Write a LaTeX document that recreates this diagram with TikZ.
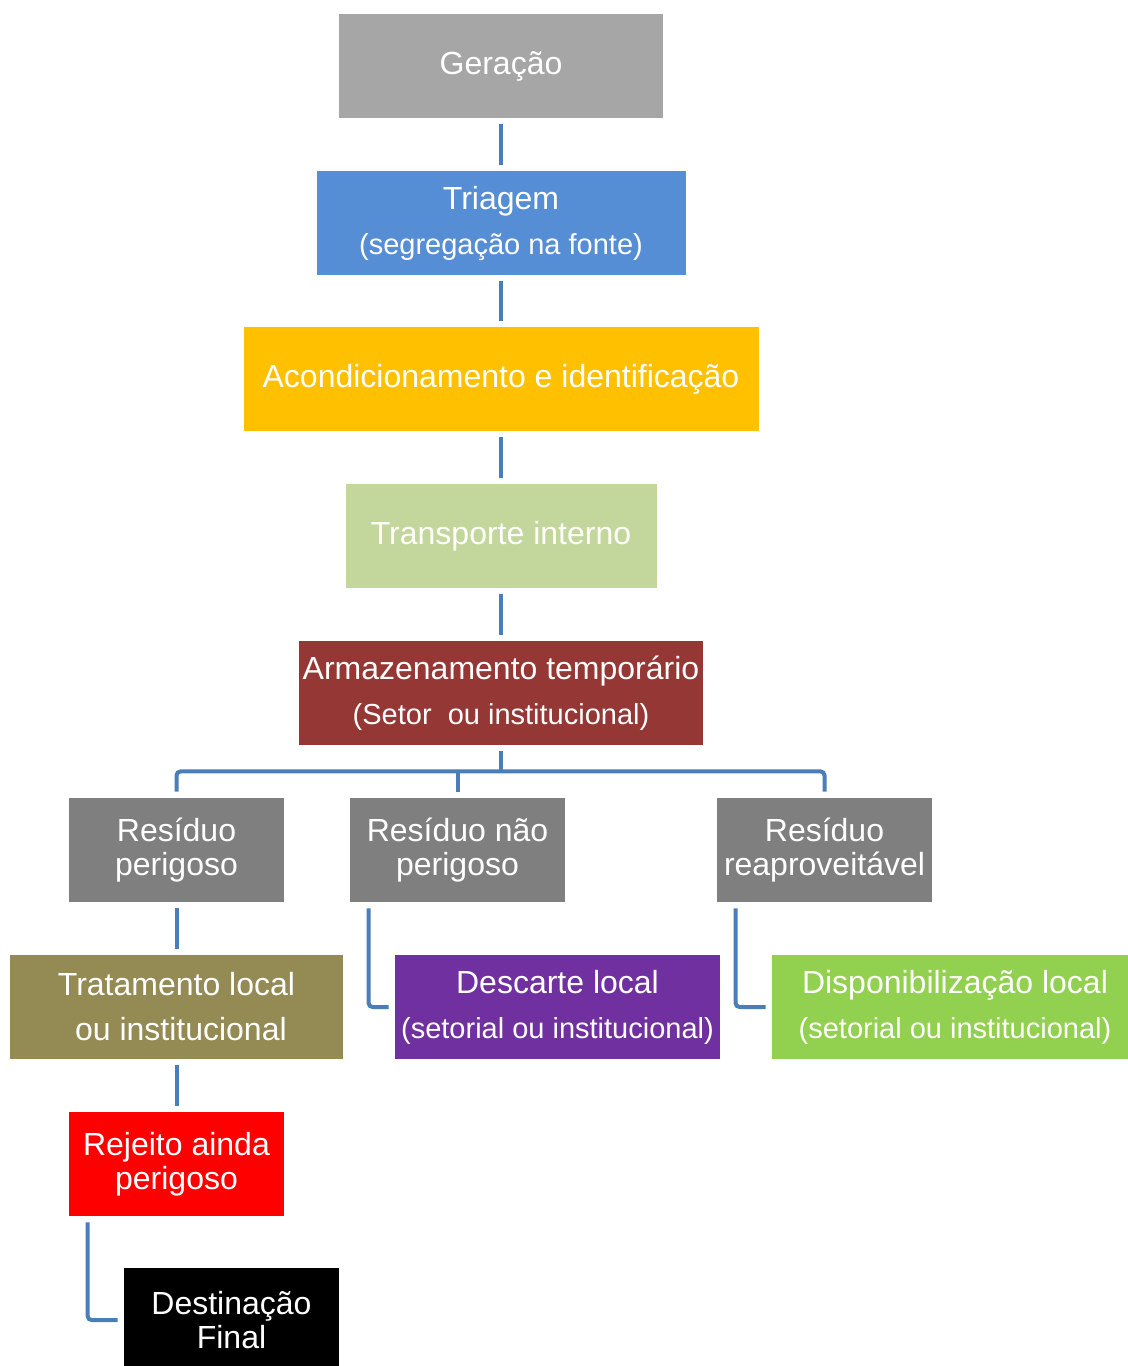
\documentclass[tikz,border=0pt]{standalone}
\usepackage{fontspec}
\setmainfont{Liberation Sans}
\usepackage{tikz}
\usetikzlibrary{positioning}

\definecolor{geracol}{HTML}{A6A6A6}
\definecolor{triacol}{HTML}{558ED5}
\definecolor{acondcol}{HTML}{FFC000}
\definecolor{transpcol}{HTML}{C3D69B}
\definecolor{armazcol}{HTML}{953735}
\definecolor{residcol}{HTML}{7F7F7F}
\definecolor{tratcol}{HTML}{948A54}
\definecolor{desccol}{HTML}{7030A0}
\definecolor{dispcol}{HTML}{92D050}
\definecolor{rejcol}{HTML}{FF0000}
\definecolor{linhacol}{HTML}{4A7EBB}

\newcommand{\subt}[1]{{\fontsize{14.5}{22.5}\selectfont #1}}

\begin{document}
\begin{tikzpicture}[x=0.5pt,y=-0.5pt,
    caixa/.style={rectangle, text=white, align=center, inner sep=0pt,
        minimum height=52pt, font=\fontsize{16}{22.5}\selectfont},
    caixa2/.style={caixa, font=\fontsize{16}{17}\selectfont},
    linha/.style={draw=linhacol, line width=2pt, rounded corners=2pt}]

    \useasboundingbox (0,0) rectangle (1128,1366);

    % Fluxo principal
    \node[caixa, fill=geracol, minimum width=162pt] (gera) at (501,66) {Geração};
    \node[caixa, fill=triacol, minimum width=184.5pt] (triagem) at (501,223)
        {Triagem\\\subt{(segregação na fonte)}};
    \node[caixa, fill=acondcol, minimum width=257.5pt] (acond) at (501,379)
        {Acondicionamento e identificação};
    \node[caixa, fill=transpcol, minimum width=155.5pt] (transp) at (501,536)
        {Transporte interno};
    \node[caixa, fill=armazcol, minimum width=202pt] (armaz) at (501,693)
        {Armazenamento temporário\\\subt{(Setor\ \ ou institucional)}};

    % Tipos de resíduo
    \node[caixa2, fill=residcol, minimum width=107.5pt] (perig) at (176.5,850)
        {Resíduo\\perigoso};
    \node[caixa2, fill=residcol, minimum width=107.5pt] (naoperig) at (457.5,850)
        {Resíduo não\\perigoso};
    \node[caixa2, fill=residcol, minimum width=107.5pt] (reap) at (824.5,850)
        {Resíduo\\reaproveitável};

    % Destinos
    \node[caixa, fill=tratcol, minimum width=166.5pt] (trat) at (176.5,1007)
        {Tratamento local\\\hspace*{4.4pt}ou institucional};
    \node[caixa, fill=desccol, minimum width=162.5pt] (desc) at (557.5,1007)
        {Descarte local\\\subt{(setorial ou institucional)}};
    \node[caixa, fill=dispcol, minimum width=183pt] (disp) at (955,1007)
        {Disponibilização local\\\subt{(setorial ou institucional)}};
    \node[caixa2, fill=rejcol, minimum width=107.5pt] (rejeito) at (176.5,1164)
        {Rejeito ainda\\perigoso};
    \node[caixa2, fill=black, minimum width=107.5pt] (dest) at (231.5,1320)
        {Destinação\\Final};

    % Ligações
    \draw[linha] ([yshift=-3pt]gera.south) -- ([yshift=3pt]triagem.north);
    \draw[linha] ([yshift=-3pt]triagem.south) -- ([yshift=3pt]acond.north);
    \draw[linha] ([yshift=-3pt]acond.south) -- ([yshift=3pt]transp.north);
    \draw[linha] ([yshift=-3pt]transp.south) -- ([yshift=3pt]armaz.north);

    \coordinate (barra) at ([yshift=-13pt]armaz.south);
    \draw[linha] ([yshift=-3pt]armaz.south) -- (barra);
    \draw[linha] ([yshift=3pt]perig.north) |- (barra) -| ([yshift=3pt]reap.north);
    \draw[linha] ([yshift=3pt]naoperig.north) -- (naoperig.north |- barra);

    \draw[linha] ([yshift=-3pt]perig.south) -- ([yshift=3pt]trat.north);
    \draw[linha] ([xshift=9.5pt,yshift=-3pt]naoperig.south west) |- ([xshift=-3pt]desc.west);
    \draw[linha] ([xshift=9.5pt,yshift=-3pt]reap.south west) |- ([xshift=-3pt]disp.west);
    \draw[linha] ([yshift=-3pt]trat.south) -- ([yshift=3pt]rejeito.north);
    \draw[linha] ([xshift=9.5pt,yshift=-3pt]rejeito.south west) |- ([xshift=-3pt]dest.west);
\end{tikzpicture}
\end{document}
